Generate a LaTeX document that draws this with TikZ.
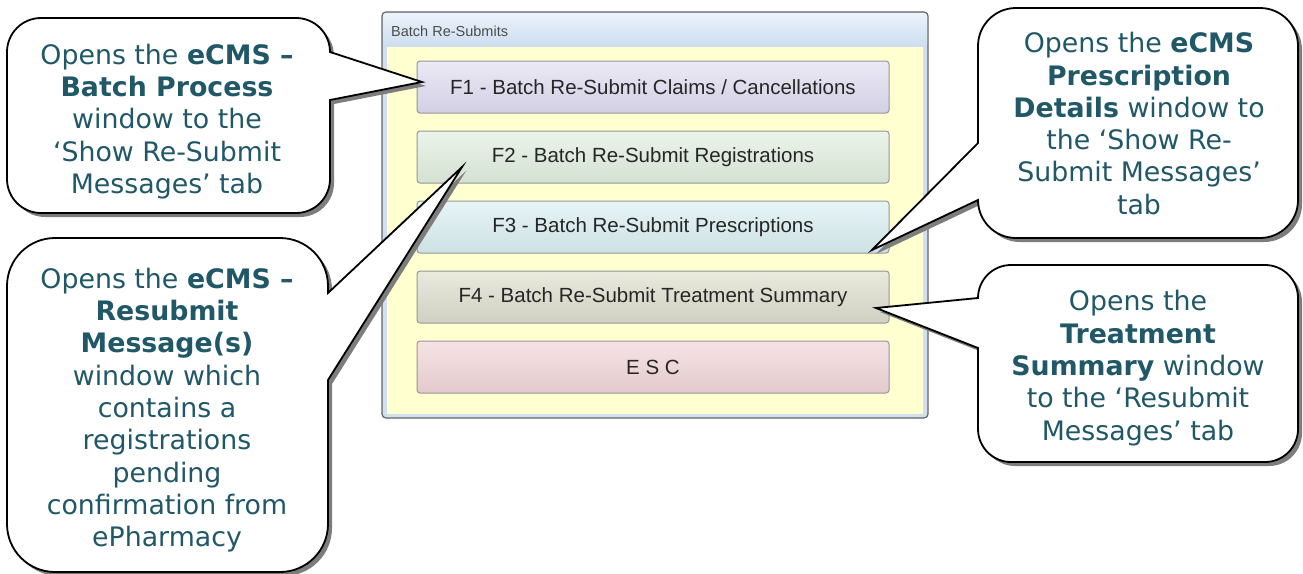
\documentclass[tikz,border=0pt]{standalone}
\usepackage{fontspec}
\usetikzlibrary{shadows}
\newfontfamily\calloutfont{DejaVu Sans}
\newfontfamily\btnfont{Liberation Sans}
\definecolor{tealtext}{RGB}{33,88,104}
\definecolor{winborder}{RGB}{100,100,100}
\definecolor{winframe}{RGB}{208,224,240}
\definecolor{titletop}{RGB}{236,243,251}
\definecolor{titlebot}{RGB}{204,221,239}
\definecolor{bodyyellow}{RGB}{255,255,208}
\definecolor{btnborder}{RGB}{150,150,155}
\definecolor{fonetop}{RGB}{236,234,246}
\definecolor{fonebot}{RGB}{210,207,227}
\definecolor{ftwotop}{RGB}{236,244,234}
\definecolor{ftwobot}{RGB}{211,225,210}
\definecolor{fthreetop}{RGB}{231,245,246}
\definecolor{fthreebot}{RGB}{205,225,228}
\definecolor{ffourtop}{RGB}{233,233,221}
\definecolor{ffourbot}{RGB}{208,208,194}
\definecolor{esctop}{RGB}{246,227,229}
\definecolor{escbot}{RGB}{227,201,205}
\definecolor{shadowgray}{RGB}{125,125,125}
\tikzset{
  callout/.style={draw=black, line width=1.8pt, fill=white, line join=miter,
    drop shadow={shadow xshift=4pt, shadow yshift=-4pt, fill=shadowgray, opacity=1}},
  callouttext/.style={align=center, inner sep=0pt, text=tealtext,
    font=\calloutfont\fontsize{26.8}{32.3}\selectfont},
  btn/.style={draw=btnborder, line width=1pt, rounded corners=3pt,
    minimum width=472pt, minimum height=52pt, inner sep=0pt,
    text=black!85, font=\btnfont\fontsize{20.5}{24}\selectfont},
}
\begin{document}
\begin{tikzpicture}[x=1pt,y=1pt]
\useasboundingbox (0,0) rectangle (1303,-573);
% window
\draw[draw=winborder, line width=1.2pt, fill=winframe, rounded corners=4pt] (382,-12) rectangle (928,-418);
\shade[top color=titletop, bottom color=titlebot, rounded corners=3pt] (383,-13) rectangle (927,-47);
\fill[bodyyellow] (387,-47) rectangle (923,-414);
\node[anchor=base west, inner sep=0pt, text=black!70, font=\btnfont\fontsize{14.5}{17}\selectfont] (title) at (391,-36) {Batch Re-Submits};
% buttons
\node[btn, top color=fonetop, bottom color=fonebot] (b1) at (653,-87) {F1 - Batch Re-Submit Claims / Cancellations};
\node[btn, top color=ftwotop, bottom color=ftwobot] (b2) at (653,-157) {F2 - Batch Re-Submit Registrations};
\node[btn, top color=fthreetop, bottom color=fthreebot] (b3) at (653,-227) {F3 - Batch Re-Submit Prescriptions};
\node[btn, top color=ffourtop, bottom color=ffourbot] (b4) at (653,-297) {F4 - Batch Re-Submit Treatment Summary};
\node[btn, top color=esctop, bottom color=escbot] (b5) at (653,-367) {E S C};
% pointer tips
\coordinate (tip1) at (422,-82);
\coordinate (tip2) at (462,-167);
\coordinate (tip3) at (872,-250);
\coordinate (tip4) at (876,-308);
% callout 1
\path[callout] (330,-100) -- (330,-179) arc[start angle=0,end angle=-90,radius=34]
  -- (41,-213) arc[start angle=-90,end angle=-180,radius=34]
  -- (7,-52) arc[start angle=180,end angle=90,radius=34]
  -- (296,-18) arc[start angle=90,end angle=0,radius=34]
  -- (tip1) -- cycle;
% callout 2
\path[callout] (328,-380) -- (328,-524) arc[start angle=0,end angle=-90,radius=48]
  -- (55,-572) arc[start angle=-90,end angle=-180,radius=48]
  -- (7,-286) arc[start angle=180,end angle=90,radius=48]
  -- (280,-238) arc[start angle=90,end angle=0,radius=48]
  -- (328,-293) -- (tip2) -- cycle;
% callout 3
\path[callout] (978,-143) -- (978,-46) arc[start angle=180,end angle=90,radius=38]
  -- (1260,-8) arc[start angle=90,end angle=0,radius=38]
  -- (1298,-200) arc[start angle=0,end angle=-90,radius=38]
  -- (1016,-238) arc[start angle=-90,end angle=-180,radius=38]
  -- (tip3) -- cycle;
% callout 4
\path[callout] (978,-348) -- (978,-429) arc[start angle=180,end angle=270,radius=33]
  -- (1265,-462) arc[start angle=270,end angle=360,radius=33]
  -- (1298,-298) arc[start angle=0,end angle=90,radius=33]
  -- (1011,-265) arc[start angle=90,end angle=180,radius=33]
  -- (tip4) -- cycle;
% callout texts
\node[callouttext] (t1) at (167,-121.5) {Opens the \textbf{eCMS –}\\\textbf{Batch Process}\\window to the\\‘Show Re-Submit\\Messages’ tab};
\node[callouttext] (t2) at (167,-410) {Opens the \textbf{eCMS –}\\\textbf{Resubmit}\\\textbf{Message(s)}\\window which\\contains a\\registrations\\pending\\confirmation from\\ePharmacy};
\node[callouttext] (t3) at (1139,-123.5) {Opens the \textbf{eCMS}\\\textbf{Prescription}\\\textbf{Details} window to\\the ‘Show Re-\\Submit Messages’\\tab};
\node[callouttext] (t4) at (1138,-368) {Opens the\\\textbf{Treatment}\\\textbf{Summary} window\\to the ‘Resubmit\\Messages’ tab};
\end{tikzpicture}
\end{document}
